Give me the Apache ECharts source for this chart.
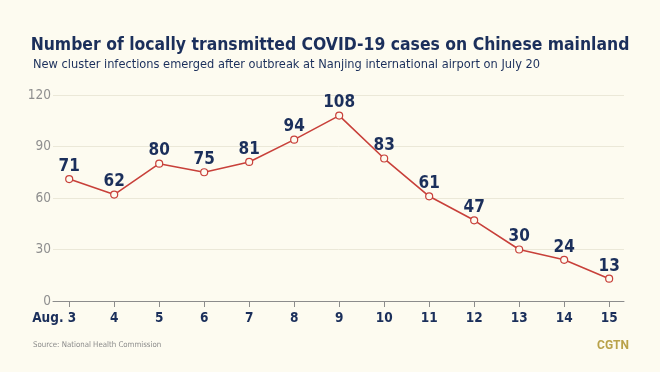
<!DOCTYPE html>
<html><head><meta charset="utf-8">
<script src="https://cdn.jsdelivr.net/npm/echarts@6/dist/echarts.min.js"></script>
<style>html,body{margin:0;padding:0;background:#fdfbf0;}#c{width:660px;height:372px;}</style>
</head><body><div id="c"></div>
<script>
var days = [3,4,5,6,7,8,9,10,11,12,13,14,15];
var cases = [71,62,80,75,81,94,108,83,61,47,30,24,13];
var yTicks = [0,30,60,90,120];
var titleText = 'Number of locally transmitted COVID-19 cases on Chinese mainland';
var subText = 'New cluster infections emerged after outbreak at Nanjing international airport on July 20';
var sourceText = 'Source: National Health Commission';

var navy = '#1b2f5b';
var F = '"DejaVu Sans Condensed", Roboto, sans-serif';
var chart = echarts.init(document.getElementById('c'));
chart.setOption({
  backgroundColor: '#fdfbf0',
  animation: false,
  title: [
    {text: titleText, left: 'center', top: 37, padding: 0,
     textStyle: {fontFamily: F, fontWeight: 'bold', fontSize: 17.4, color: navy}},
    {text: subText, left: 33, top: 58, padding: 0,
     textStyle: {fontFamily: F, fontWeight: 'normal', fontSize: 12.7, color: navy}},
    {text: sourceText, left: 33, top: 341, padding: 0,
     textStyle: {fontFamily: F, fontWeight: 'normal', fontSize: 7.8, color: '#8a8a8a'}},
    {text: 'CGTN', right: 31, top: 340, padding: 0,
     textStyle: {fontFamily: 'Roboto', fontWeight: 'bold', fontSize: 12, color: '#b9a24a'}}
  ],
  grid: {left: 53, right: 36, top: 95, bottom: 71},
  xAxis: {
    type: 'value', min: 2.64, max: 15.33,
    axisLine: {show: true, lineStyle: {color: '#8c8c8c', width: 1}},
    axisTick: {show: true, customValues: days, length: 6, lineStyle: {color: '#8c8c8c'}},
    splitLine: {show: false},
    axisLabel: {
      customValues: days, margin: 10,
      fontFamily: F, fontWeight: 'bold', fontSize: 13.5, color: navy,
      formatter: function (v) { return v === 3 ? '{a|Aug. }3{p|}' : String(v); },
      rich: {
        a: {fontFamily: F, fontWeight: 'bold', fontSize: 13.5, color: navy},
        p: {width: 30}
      }
    }
  },
  yAxis: {
    type: 'value', min: 0, max: 120, interval: 30,
    axisLine: {show: false}, axisTick: {show: false},
    splitLine: {lineStyle: {color: '#ebe8d8', width: 1}},
    axisLabel: {margin: 2, fontFamily: F, fontSize: 13.5, color: '#8f8f8f'}
  },
  series: [{
    type: 'line',
    data: days.map(function (d, i) { return [d, cases[i]]; }),
    symbol: 'circle', symbolSize: 7,
    lineStyle: {color: '#c8403a', width: 1.6},
    itemStyle: {color: '#fdfbf0', borderColor: '#c8403a', borderWidth: 1.2},
    label: {show: true, position: 'top', distance: 0, lineHeight: 17,
      formatter: function (p) { return p.value[1]; },
      fontFamily: F, fontWeight: 'bold', fontSize: 17, color: navy}
  }]
});
</script></body></html>
